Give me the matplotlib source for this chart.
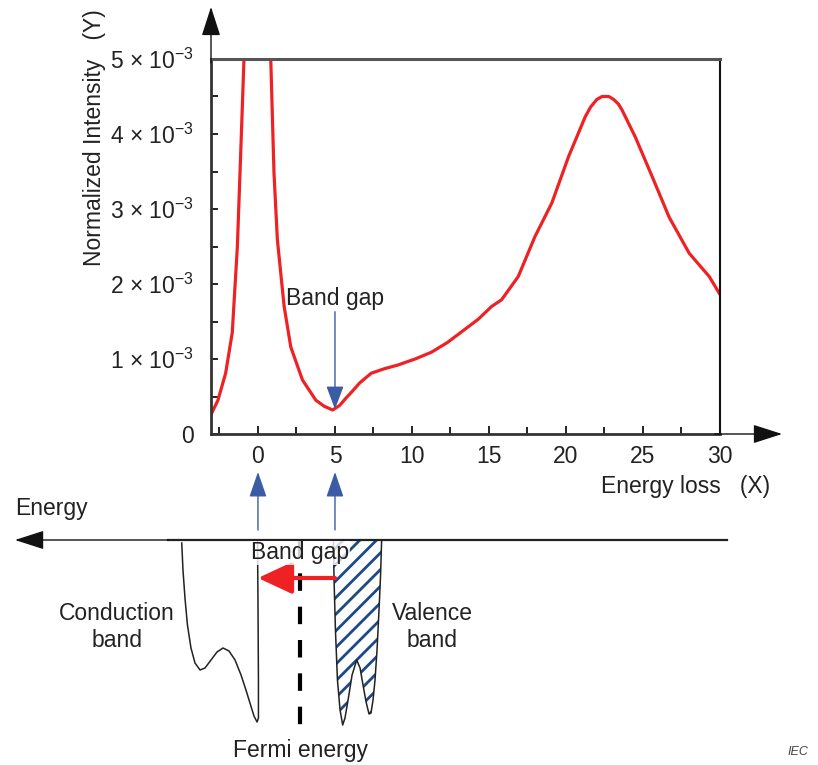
import matplotlib
matplotlib.use("Agg")
import matplotlib.pyplot as plt
import numpy as np

plt.rcParams['font.family'] = ['Liberation Sans', 'DejaVu Sans']
plt.rcParams['mathtext.fontset'] = 'custom'
plt.rcParams['mathtext.rm'] = 'Liberation Sans'
plt.rcParams['mathtext.it'] = 'Liberation Sans:italic'
plt.rcParams['hatch.linewidth'] = 2.0

# EELS spectrum (energy loss in eV, normalized intensity)
energy_loss = [-3.07, -2.6, -2.1, -1.67, -1.34, -1.13, -0.91, -0.5, 0.0, 0.5, 0.83,
               1.04, 1.26, 1.7, 2.13, 2.89, 3.76, 4.3, 4.85, 5.3, 5.72, 6.04, 6.6,
               7.35, 8.2, 9.09, 10.2, 11.26, 12.3, 13.4, 14.3, 15.17, 15.82, 16.9,
               17.98, 19.08, 20.17, 21.25, 21.6, 22.0, 22.34, 22.78, 23.1, 23.4, 23.64,
               24.5, 25.6, 26.7, 28.0, 29.3, 30.0]
intensity = [0.25, 0.45, 0.81, 1.35, 2.49, 3.69, 4.99, 9.0, 20.0, 9.0, 5.0,
             3.48, 2.59, 1.70, 1.16, 0.72, 0.45, 0.37, 0.32, 0.38, 0.48, 0.55, 0.68,
             0.81, 0.87, 0.92, 1.0, 1.09, 1.22, 1.39, 1.53, 1.70, 1.79, 2.10,
             2.63, 3.08, 3.70, 4.23, 4.36, 4.46, 4.50, 4.50, 4.46, 4.40, 4.32,
             3.96, 3.43, 2.89, 2.41, 2.10, 1.86]
intensity = [v * 1e-3 for v in intensity]

x_ticks = [0, 5, 10, 15, 20, 25, 30]
y_ticks = [0, 1e-3, 2e-3, 3e-3, 4e-3, 5e-3]
y_tick_labels = ['0', r'1 × 10$^{-3}$', r'2 × 10$^{-3}$', r'3 × 10$^{-3}$',
                 r'4 × 10$^{-3}$', r'5 × 10$^{-3}$']

# band diagram shapes (energy in eV, depth = density of states, arbitrary units)
cond_x = [-4.95, -4.87, -4.74, -4.58, -4.35, -4.09, -3.76, -3.44, -3.05, -2.66, -2.27,
          -1.88, -1.49, -1.10, -0.78, -0.52, -0.26, -0.06, 0.03, 0.03, 0.0, -0.03]
cond_dos = [-3, -30, -58, -85, -108, -123, -130, -128, -120, -112, -108,
            -111, -120, -135, -150, -163, -176, -182, -178, -140, -60, 0]
val_x = [4.90, 4.94, 5.03, 5.16, 5.33, 5.50, 5.65, 5.85, 6.11, 6.41, 6.63, 6.82,
         7.02, 7.21, 7.34, 7.47, 7.60, 7.73, 7.86, 7.96, 8.03]
val_dos = [0, -40, -90, -140, -170, -185, -178, -160, -135, -120, -128, -145,
           -162, -174, -173, -160, -140, -110, -70, -35, 0]
fermi_level = 2.73
band_gap = (0.0, 5.0)

FS = 16.5
TXT = '#222222'
W, H = 818, 765
fig = plt.figure(figsize=(W / 100, H / 100), dpi=100)
ax = fig.add_axes([211 / W, 1 - 434 / H, (720 - 211) / W, (434 - 59) / H])
ax.plot(energy_loss, intensity, color='#ee2224', lw=2.3, solid_joinstyle='round')
ax.set_xlim(-3.05, 30)
ax.set_ylim(0, 5e-3)
ax.set_xticks(x_ticks)
ax.set_xticklabels([str(t) for t in x_ticks])
ax.set_xticks(np.arange(-2.5, 30, 5), minor=True)
ax.set_yticks(y_ticks)
ax.set_yticklabels(y_tick_labels)
ax.set_yticks(np.arange(0.5e-3, 5e-3, 1e-3), minor=True)
ax.tick_params(which='both', direction='in', length=5, width=1.4, labelsize=FS, colors=TXT)
ax.tick_params(axis='x', pad=8)
ax.tick_params(axis='y', pad=12)
ax.tick_params(axis='x', which='major', length=6)
ax.spines['top'].set_color('#555555')
ax.spines['top'].set_linewidth(2.2)
ax.spines['right'].set_color('#111111')
ax.spines['right'].set_linewidth(1.5)
for s in ['left', 'bottom']:
    ax.spines[s].set_color('#333333')
    ax.spines[s].set_linewidth(2.0)

arrow_k = dict(arrowstyle='-|>,head_length=1.4,head_width=0.45', color='#111111',
               lw=1, mutation_scale=13, shrinkA=0, shrinkB=0)
ax.annotate('', xy=(0, 1.139), xytext=(0, 0.99), xycoords='axes fraction',
            arrowprops=arrow_k, annotation_clip=False)
ax.annotate('', xy=(1.122, 0), xytext=(0.99, 0), xycoords='axes fraction',
            arrowprops=arrow_k, annotation_clip=False)

ax.text(5.0, 1.81e-3, 'Band gap', ha='center', va='center', fontsize=FS, color=TXT)
ax.annotate('', xy=(5.0, 0.33e-3), xytext=(5.0, 1.63e-3),
            arrowprops=dict(arrowstyle='-|>,head_length=1.2,head_width=0.45', color='#3b5ba5',
                            lw=1.0, mutation_scale=12, shrinkA=0, shrinkB=0))

fig.text(94 / W, 1 - 138 / H, 'Normalized Intensity   (Y)', rotation=90, ha='center',
         va='center', fontsize=FS, color=TXT)
fig.text(601 / W, 1 - 487 / H, 'Energy loss   (X)', ha='left', va='center', fontsize=FS,
         color=TXT)

# band diagram axes, sharing the energy scale of the spectrum
scale = (720 - 211) / 33.05
ax2 = fig.add_axes([0, 0, 1, 265 / H])
ax2.set_xlim(-3.05 - 211 / scale, -3.05 + (W - 211) / scale)
ax2.set_ylim(-225, 40)
ax2.axis('off')

ax2.plot(cond_x, cond_dos, color='#222222', lw=1.1)
ax2.fill(val_x, val_dos, facecolor='white', edgecolor='#1b4a86', lw=0, hatch='//')
ax2.plot(val_x, val_dos, color='#222222', lw=1.1)
ax2.plot([fermi_level, fermi_level], [0, -188], color='black', lw=3.0,
         linestyle=(0, (4.2, 3.8)))
ax2.plot([-5.84, 30.46], [0, 0], color='#222222', lw=1.6)
ax2.annotate('', xy=(-15.78, 0), xytext=(-5.8, 0), arrowprops=arrow_k, annotation_clip=False)
ax2.annotate('', xy=(band_gap[0], -38), xytext=(band_gap[1], -38),
             arrowprops=dict(arrowstyle='-|>,head_length=1.5,head_width=0.7', color='#ee2224',
                             lw=3.0, mutation_scale=14, shrinkA=0, shrinkB=0))
for bx in band_gap:
    ax2.annotate('', xy=(bx, 68), xytext=(bx, 10), annotation_clip=False,
                 arrowprops=dict(arrowstyle='-|>,head_length=1.3,head_width=0.45',
                                 color='#3b5ba5', lw=1.0, mutation_scale=12,
                                 shrinkA=0, shrinkB=0))

ax2.text(-15.78, 32, 'Energy', ha='left', va='center', fontsize=FS, color=TXT)
ax2.text(fermi_level, -13, 'Band gap', ha='center', va='center', fontsize=FS, color=TXT,
         bbox=dict(facecolor='white', edgecolor='none', alpha=0.8, pad=0.5))
ax2.text(-9.15, -87, 'Conduction\nband', ha='center', va='center', fontsize=FS,
         color=TXT, linespacing=1.25)
ax2.text(11.3, -87, 'Valence\nband', ha='center', va='center', fontsize=FS,
         color=TXT, linespacing=1.25)
ax2.text(fermi_level, -210, 'Fermi energy', ha='center', va='center', fontsize=FS,
         color=TXT)
ax2.text(34.4, -212, 'IEC', ha='left', va='center', fontsize=9, style='italic',
         color='#444444')

fig.savefig('out.png', dpi=100)
